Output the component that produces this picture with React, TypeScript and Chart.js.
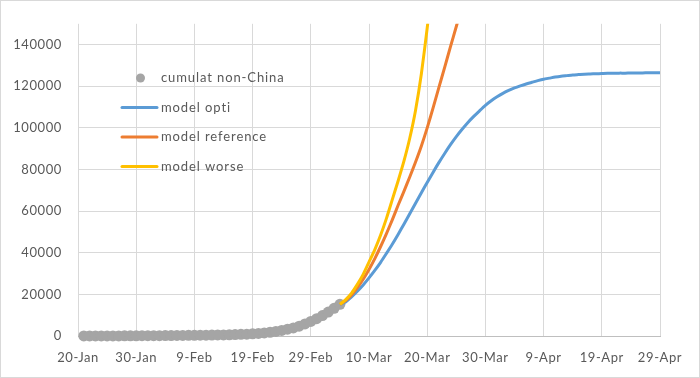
import React, { useEffect, useRef } from "react";
import { Chart, registerables } from "chart.js";

Chart.register(...registerables);

// ---- data ----
const xTickLabels = ["20-Jan", "30-Jan", "9-Feb", "19-Feb", "29-Feb", "10-Mar", "20-Mar", "30-Mar", "9-Apr", "19-Apr", "29-Apr"];
const yTickValues = [0, 20000, 40000, 60000, 80000, 100000, 120000, 140000];
const yMax = 150000;

const seriesNames = ["cumulat non-China", "model opti", "model reference", "model worse"];
const seriesColors = ["#a5a5a5", "#5b9bd5", "#ed7d31", "#ffc000"];

// day index 0 = 20-Jan
const observedStartDay = 1; // 21-Jan
const cumulatNonChina = [
  7, 10, 14, 24, 36, 50, 60, 72, 85, 105,
  135, 150, 160, 178, 200, 220, 260, 290, 310, 330,
  370, 410, 450, 490, 520, 600, 700, 800, 900, 1050,
  1250, 1500, 1800, 2200, 2700, 3300, 3900, 4700, 5800, 7000,
  8300, 9800, 11500, 13300, 15200,
];

const modelStartDay = 45; // 5-Mar
const modelOpti = [
  15200, 16400, 18800, 21500, 24500, 27900, 31500, 35400, 39700, 44100,
  48800, 53700, 58700, 63800, 68800, 73800, 78600, 83300, 87700, 91900,
  95800, 99300, 102600, 105500, 108200, 110800, 113000, 114900, 116600, 118000,
  119200, 120200, 121100, 121900, 122700, 123400, 123900, 124400, 124800, 125100,
  125400, 125600, 125800, 125900, 126000, 126100, 126200, 126200, 126300, 126300,
  126400, 126400, 126400, 126500, 126500, 126500,
];
const modelReference = [
  15200, 17000, 19700, 23200, 27300, 32000, 37200, 43000, 49200, 55800,
  62800, 69500, 76400, 83600, 91300, 100000, 109500, 119300, 129100, 139000,
  148700, 158500,
];
const modelWorse = [
  15200, 17500, 20600, 24800, 29600, 35500, 41500, 48500, 56500, 65500,
  74500, 84000, 95000, 108500, 126000, 148000, 172000,
];

const toPoints = (start: number, arr: number[]) => arr.map((y, i) => ({ x: start + i, y }));

const FONT = "Lato, Calibri, Carlito, 'Open Sans', sans-serif";
const TEXT_COLOR = "#595959";
const GRID_COLOR = "#d9d9d9";

const spacingPlugin = {
  id: "spacing",
  beforeLayout(chart: any) {
    chart.ctx.letterSpacing = "0.6px";
  },
  beforeDraw(chart: any) {
    chart.ctx.letterSpacing = "0.6px";
  },
};

const legendPlugin = {
  id: "inlineLegend",
  afterDatasetsDraw(chart: any) {
    const ctx = chart.ctx as CanvasRenderingContext2D;
    ctx.save();
    ctx.font = `13px ${FONT}`;
    (ctx as any).letterSpacing = "0.9px";
    ctx.textBaseline = "middle";
    ctx.textAlign = "left";
    const rows = [78, 107.5, 137, 166.5];
    const lineX0 = 122;
    const lineX1 = 157;
    const textX = 161;
    seriesNames.forEach((name, i) => {
      const y = rows[i];
      if (i === 0) {
        ctx.fillStyle = seriesColors[0];
        ctx.beginPath();
        ctx.arc((lineX0 + lineX1) / 2 + 1, y, 4.5, 0, Math.PI * 2);
        ctx.fill();
      } else {
        ctx.strokeStyle = seriesColors[i];
        ctx.lineWidth = 3;
        ctx.lineCap = "round";
        ctx.beginPath();
        ctx.moveTo(lineX0, y);
        ctx.lineTo(lineX1, y);
        ctx.stroke();
      }
      ctx.fillStyle = TEXT_COLOR;
      ctx.fillText(name, textX, y);
    });
    ctx.restore();
  },
};

const borderPlugin = {
  id: "outerBorder",
  afterDraw(chart: any) {
    const ctx = chart.ctx as CanvasRenderingContext2D;
    ctx.save();
    ctx.strokeStyle = GRID_COLOR;
    ctx.lineWidth = 1;
    ctx.strokeRect(0.5, 0.5, chart.width - 1, chart.height - 1);
    ctx.restore();
  },
};

export default function App() {
  const canvasRef = useRef<HTMLCanvasElement | null>(null);

  useEffect(() => {
    const canvas = canvasRef.current;
    if (!canvas) return;
    const chart = new Chart(canvas, {
      type: "line",
      data: {
        datasets: [
          {
            label: seriesNames[0],
            data: toPoints(observedStartDay, cumulatNonChina),
            showLine: false,
            pointRadius: 5.5,
            pointHoverRadius: 5.5,
            pointBackgroundColor: seriesColors[0],
            pointBorderWidth: 0,
            borderColor: seriesColors[0],
            backgroundColor: seriesColors[0],
            clip: false,
            order: 3,
          },
          {
            label: seriesNames[1],
            data: toPoints(modelStartDay, modelOpti),
            borderColor: seriesColors[1],
            borderWidth: 3,
            pointRadius: 0,
            tension: 0.2,
            order: 2,
          },
          {
            label: seriesNames[2],
            data: toPoints(modelStartDay, modelReference),
            borderColor: seriesColors[2],
            borderWidth: 3,
            pointRadius: 0,
            tension: 0.2,
            order: 1,
          },
          {
            label: seriesNames[3],
            data: toPoints(modelStartDay, modelWorse),
            borderColor: seriesColors[3],
            borderWidth: 3,
            pointRadius: 0,
            tension: 0.2,
            order: 0,
          },
        ],
      },
      options: {
        responsive: false,
        animation: false,
        layout: { padding: { left: 0, top: 20, right: 40, bottom: 0 } },
        plugins: {
          legend: { display: false },
          tooltip: { enabled: false },
        },
        scales: {
          x: {
            type: "linear",
            min: 0,
            max: 100,
            afterFit: (scale: any) => {
              scale.height = 42;
            },
            ticks: {
              stepSize: 10,
              autoSkip: false,
              maxRotation: 0,
              padding: 14,
              color: TEXT_COLOR,
              font: { family: FONT, size: 13 },
              callback: (v: any) => xTickLabels[Math.round(Number(v) / 10)] ?? "",
            },
            grid: { color: GRID_COLOR, drawTicks: false, lineWidth: 1 },
            border: { display: true, color: "#bfbfbf", width: 1 },
          },
          y: {
            type: "linear",
            min: 0,
            max: yMax,
            afterFit: (scale: any) => {
              scale.width = 78;
            },
            afterBuildTicks: (axis: any) => {
              axis.ticks = yTickValues.map((v) => ({ value: v }));
            },
            ticks: {
              autoSkip: false,
              padding: 16,
              color: TEXT_COLOR,
              font: { family: FONT, size: 13 },
              callback: (v: any) => String(v),
            },
            grid: { color: GRID_COLOR, drawTicks: false, lineWidth: 1 },
            border: { display: false },
          },
        },
      },
      plugins: [spacingPlugin, legendPlugin, borderPlugin],
    } as any);
    return () => chart.destroy();
  }, []);

  return (
    <div style={{ position: "fixed", left: 0, top: 0, width: 700, height: 378, background: "#fff" }}>
      <canvas ref={canvasRef} width={700} height={378} style={{ display: "block", width: 700, height: 378 }} />
    </div>
  );
}
